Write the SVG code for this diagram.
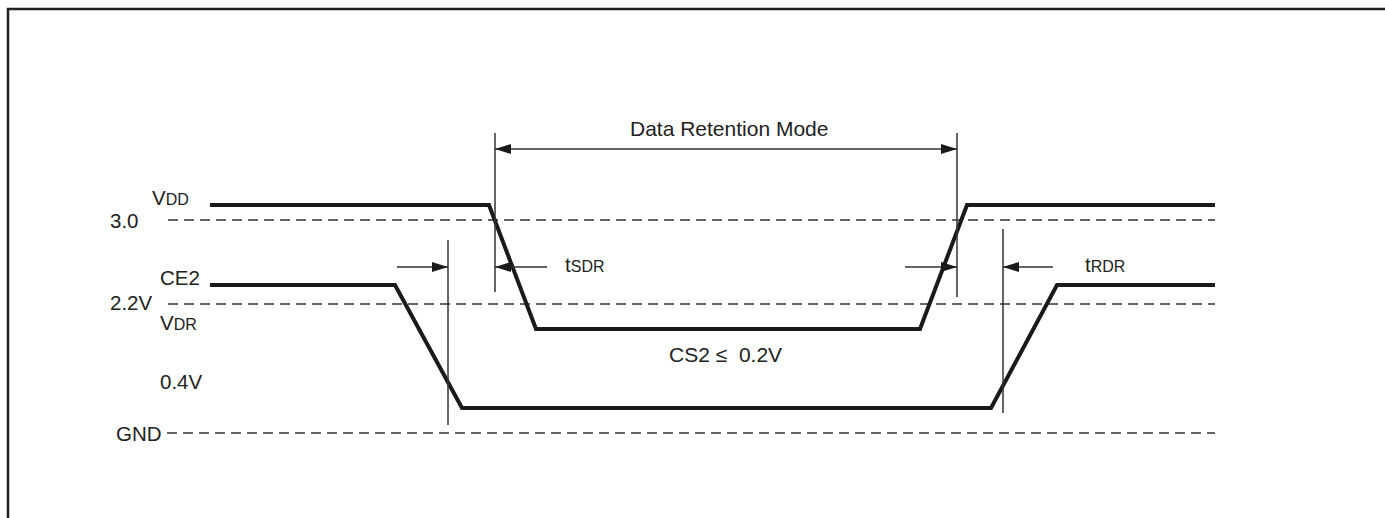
<svg xmlns="http://www.w3.org/2000/svg" width="1385" height="518" viewBox="0 0 1385 518">
<style>
text{font-family:"Liberation Sans",Arial,sans-serif;font-size:20.5px;fill:#222;white-space:pre}
.sub{font-size:16px}
.big{font-size:21px}
.wave{fill:none;stroke:#1a1a1a;stroke-width:4;stroke-linejoin:miter}
.dash{fill:none;stroke:#333;stroke-width:1.5;stroke-dasharray:10 6}
.thin{fill:none;stroke:#333;stroke-width:1.5}
.border{fill:none;stroke:#222;stroke-width:2.5}
</style>
<defs>
<marker id="ah" viewBox="0 0 16 10" refX="16" refY="5" markerWidth="16" markerHeight="10" markerUnits="userSpaceOnUse" orient="auto-start-reverse">
<path d="M0,0 L16,5 L0,10 Z" fill="#1a1a1a"/>
</marker>
</defs>
<path class="border" d="M8,518 L8,9 L1385,9"/>
<g id="levels">
<path class="dash" d="M168,220 H1215"/>
<path class="dash" d="M168,304 H1215"/>
<path class="dash" d="M167,433 H1215"/>
</g>
<g id="vdd-wave"><path class="wave" d="M210,205 L489,205 L536,329 L920,329 L967,205 L1215,205"/></g>
<g id="ce2-wave"><path class="wave" d="M210,285 L395,285 L462,408 L991,408 L1057,285 L1215,285"/></g>
<g id="connectors">
<path class="thin" d="M448,240 V425"/>
<path class="thin" d="M495,133 V292"/>
<path class="thin" d="M957,133 V297"/>
<path class="thin" d="M1003,229 V413"/>
<path class="thin" d="M495,149 H957" marker-start="url(#ah)" marker-end="url(#ah)"/>
<path class="thin" d="M397,267 H448" marker-end="url(#ah)"/>
<path class="thin" d="M547,267 H495" marker-end="url(#ah)"/>
<path class="thin" d="M905,267 H957" marker-end="url(#ah)"/>
<path class="thin" d="M1053,267 H1003" marker-end="url(#ah)"/>
</g>
<g id="labels">
<text x="152" y="205">V<tspan class="sub">DD</tspan></text>
<text x="110" y="228">3.0</text>
<text x="160" y="285">CE2</text>
<text x="110" y="310">2.2V</text>
<text x="160" y="330">V<tspan class="sub">DR</tspan></text>
<text x="160" y="389">0.4V</text>
<text x="116" y="441">GND</text>
<text class="big" x="630" y="136">Data Retention Mode</text>
<text class="big" x="669" y="362">CS2 ≤  0.2V</text>
<text x="565" y="272">t<tspan class="sub">SDR</tspan></text>
<text x="1085" y="272">t<tspan class="sub">RDR</tspan></text>
</g>
</svg>
